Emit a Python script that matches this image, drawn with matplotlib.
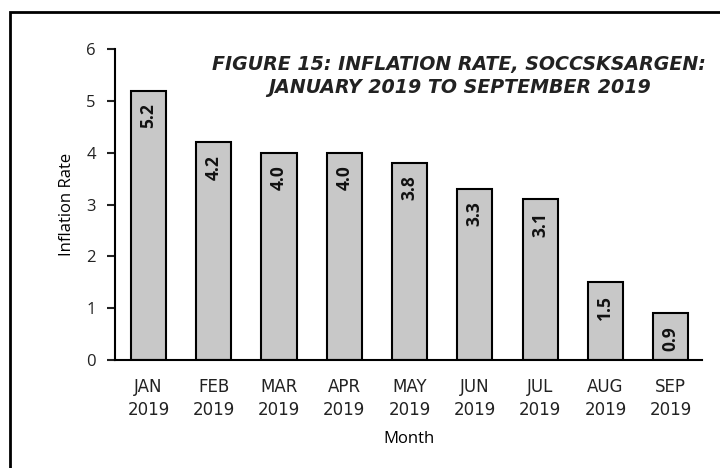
import matplotlib
matplotlib.use('Agg')
import matplotlib.pyplot as plt
from matplotlib.patches import Rectangle

# Datos del gráfico
months = ['JAN\n2019', 'FEB\n2019', 'MAR\n2019', 'APR\n2019', 'MAY\n2019',
          'JUN\n2019', 'JUL\n2019', 'AUG\n2019', 'SEP\n2019']
rates = [5.2, 4.2, 4.0, 4.0, 3.8, 3.3, 3.1, 1.5, 0.9]
yticks = [0, 1, 2, 3, 4, 5, 6]

plt.rcParams['font.family'] = ['Open Sans', 'DejaVu Sans']

fig = plt.figure(figsize=(7.2, 4.68), dpi=100)
ax = fig.add_axes([0.16, 0.231, 0.815, 0.664])

x = list(range(len(rates)))
ax.bar(x, rates, width=0.54, color='#c8c8c8', edgecolor='black', linewidth=1.5, zorder=2)

# Etiquetas dentro de las barras
for xi, v in zip(x, rates):
    ax.annotate(f'{v:.1f}', (xi, v), xytext=(0, -9), textcoords='offset points',
                rotation=90, ha='center', va='top', fontsize=12.5, fontweight='bold',
                color='#111111')

ax.set_xlim(-0.51, 8.48)
ax.set_ylim(0, 6)
ax.set_yticks(yticks)
ax.set_xticks(x)
ax.set_xticklabels(months, fontsize=12, linespacing=1.35, family='DejaVu Sans')
ax.tick_params(axis='x', length=0, pad=13)
ax.tick_params(axis='y', length=6, width=1.5, labelsize=12, pad=8)
ax.tick_params(colors='#222222')

for s in ['top', 'right']:
    ax.spines[s].set_visible(False)
ax.spines['left'].set_linewidth(1.5)
ax.spines['bottom'].set_linewidth(1.5)

ax.set_xlabel('Month', fontsize=12, labelpad=9)
ax.set_ylabel('Inflation Rate', fontsize=12, labelpad=8)

# Título en dos líneas
title_kw = dict(ha='center', va='center', fontsize=13.7, fontweight='bold', style='italic',
                family='DejaVu Sans', color='#222222')
fig.text(0.638, 0.863, 'FIGURE 15: INFLATION RATE, SOCCSKSARGEN:', **title_kw)
fig.text(0.638, 0.814, 'JANUARY 2019 TO SEPTEMBER 2019', **title_kw)

# Marco exterior
fig.patches.append(Rectangle((0.014, -0.1), 1.2, 1.074, transform=fig.transFigure,
                             fill=False, edgecolor='black', linewidth=2))

fig.savefig('out.png', dpi=100)
